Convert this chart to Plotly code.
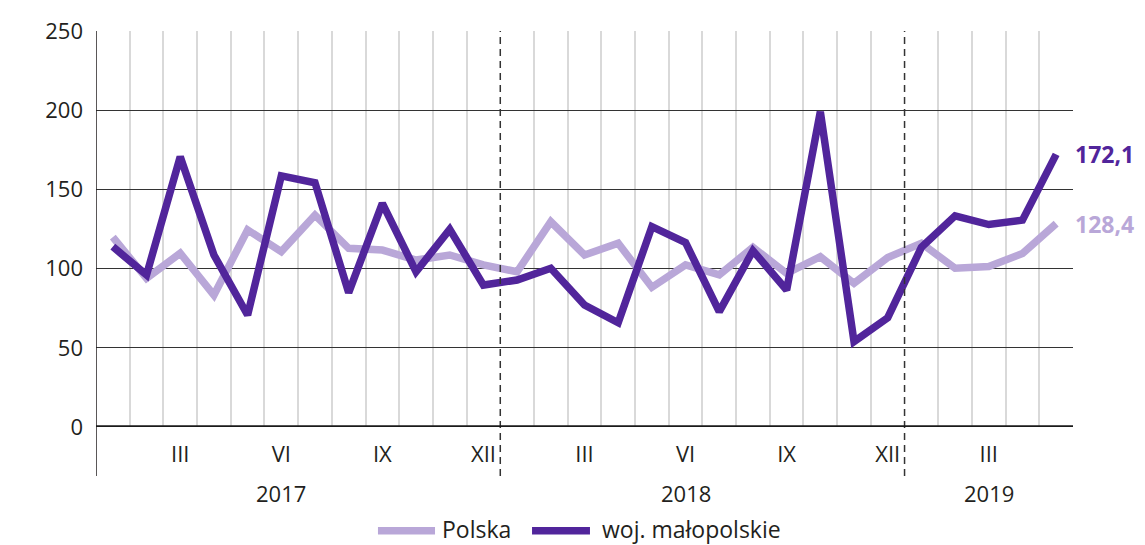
import plotly.graph_objects as go

months_roman = ["I", "II", "III", "IV", "V", "VI", "VII", "VIII", "IX", "X", "XI", "XII"]
years = ["2017", "2018", "2019"]
months_per_year = [12, 12, 5]

polska = [119.8, 93.9, 109.7, 83.3, 124.4, 110.7, 133.8, 112.8, 111.7, 105.4, 108.6, 102.3,
          98.0, 129.6, 108.6, 116.0, 88.2, 102.3, 96.0, 113.4, 97.0, 107.5, 90.7, 107.0,
          116.0, 100.2, 101.3, 109.5, 128.4]
malopolskie = [113.8, 96.0, 170.6, 108.6, 70.7, 158.5, 154.2, 84.8, 141.2, 98.0, 124.8, 89.6,
               92.8, 100.2, 77.0, 65.8, 126.5, 116.4, 72.8, 111.3, 86.5, 199.0, 53.9, 69.0,
               113.4, 133.3, 127.8, 130.6, 172.1]

names = ["Polska", "woj. małopolskie"]
colors = ["#B9A7D8", "#51259B"]
end_labels = ["128,4", "172,1"]

n = len(polska)
xs = [i + 0.5 for i in range(n)]

tickvals, ticktext = [], []
idx = 0
for y, m in zip(years, months_per_year):
    for k in range(m):
        if (k + 1) % 3 == 0:
            tickvals.append(idx + k + 0.5)
            ticktext.append(months_roman[k])
    idx += m

year_starts = []
s = 0
for m in months_per_year:
    year_starts.append(s)
    s += m
year_label_month = [6, 6, 3]

text_color = "#231F20"
font_family = "Open Sans, Noto Sans, sans-serif"

fig = go.Figure()
for name, vals, col in zip(names, [polska, malopolskie], colors):
    fig.add_trace(go.Scatter(x=xs, y=vals, mode="lines", name=name, showlegend=False,
                             line=dict(color=col, width=7.5), cliponaxis=False))

# end labels
for vals, col, lab in zip([polska, malopolskie], colors, end_labels):
    fig.add_annotation(x=xs[-1], y=vals[-1], text="<b>" + lab + "</b>", showarrow=False,
                       xanchor="left", yanchor="middle", xshift=17,
                       font=dict(color=col, size=23, family=font_family))

# year labels
for ys, y, lm in zip(year_starts, years, year_label_month):
    fig.add_annotation(x=ys + lm - 0.5, y=-0.167, yref="paper", text=y, showarrow=False,
                       xanchor="center", yanchor="middle",
                       font=dict(color=text_color, size=22, family=font_family))

# dashed year separators
for ys in year_starts[1:]:
    fig.add_shape(type="line", x0=ys, x1=ys, y0=-0.124, y1=1, yref="paper",
                  line=dict(color="#333333", width=1.5, dash="7px,5px"), layer="above")

# left axis line extending below
fig.add_shape(type="line", x0=0, x1=0, y0=-0.124, y1=1, yref="paper",
              line=dict(color="#231F20", width=1.5), layer="above")
# zero baseline
fig.add_shape(type="line", x0=0, x1=n, y0=0, y1=0,
              line=dict(color="#1a1a1a", width=3.5), layer="above")

# manual legend (paper coordinates)
legend_items = [(0.2886, 0.3470, 0.352), (0.4463, 0.5056, 0.5159)]
for (x0, x1, xt), name, col in zip(legend_items, names, colors):
    fig.add_shape(type="line", xref="paper", yref="paper", x0=x0, x1=x1, y0=-0.262, y1=-0.262,
                  line=dict(color=col, width=7.5))
    fig.add_annotation(xref="paper", yref="paper", x=xt, y=-0.258, text=name, showarrow=False,
                       xanchor="left", yanchor="middle",
                       font=dict(color=text_color, size=23, family=font_family))

minor_vals = [v for v in range(1, n) if v not in year_starts]

# page has an 8px body margin, so the figure is sized/offset to compensate
fig.update_layout(
    width=1137, height=537,
    margin=dict(l=88, r=72, t=23, b=118, autoexpand=False),
    paper_bgcolor="white", plot_bgcolor="white",
    font=dict(family=font_family, color=text_color, size=22),
    showlegend=False,
    xaxis=dict(range=[0, n], tickmode="array", tickvals=tickvals, ticktext=ticktext,
               showgrid=False, zeroline=False, showline=False, ticks="",
               ticklabelstandoff=12, automargin=False,
               tickfont=dict(size=22, color=text_color),
               minor=dict(tickmode="array", tickvals=minor_vals, showgrid=True,
                          gridcolor="#D9D9D9", gridwidth=1.5, ticks="")),
    yaxis=dict(range=[0, 250], tickvals=[0, 50, 100, 150, 200, 250],
               showgrid=True, gridcolor="#333333", gridwidth=1,
               zeroline=False, showline=False, ticks="", automargin=False,
               ticklabelstandoff=12,
               tickfont=dict(size=22, color=text_color)),
)

fig.write_html("out.html")
